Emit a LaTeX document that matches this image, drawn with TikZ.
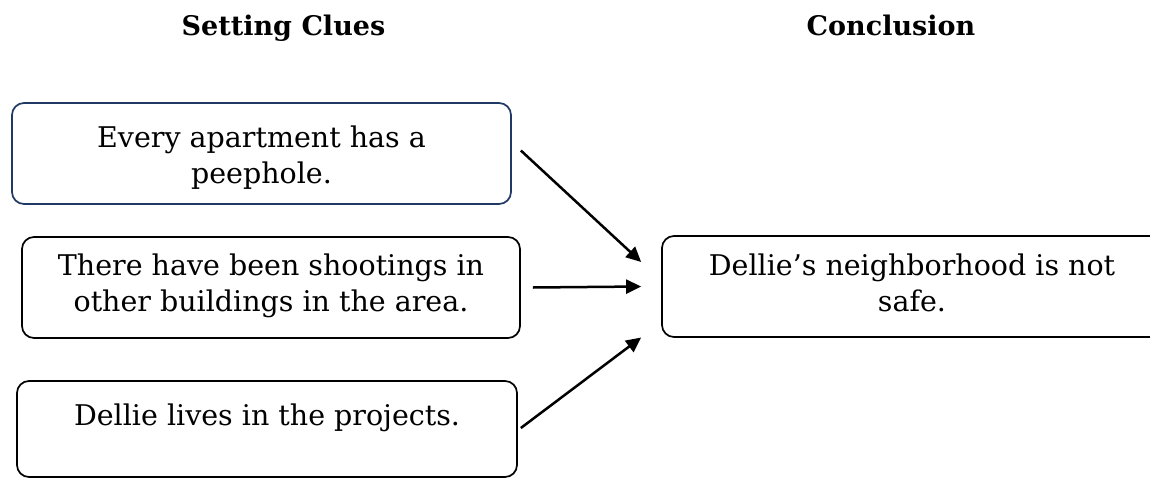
\documentclass[tikz,border=0pt]{standalone}
\usepackage{fontspec}
\setmainfont{DejaVu Serif}
\usetikzlibrary{arrows.meta,calc}
\definecolor{navy}{RGB}{31,56,100}
\begin{document}
\begin{tikzpicture}[x=1pt,y=-1pt,
  clue/.style={draw, rounded corners=12pt, line width=1.7pt, minimum height=101pt, inner sep=0pt},
  txt/.style={anchor=base, inner sep=0pt, align=center, font=\fontsize{28.5}{36}\selectfont},
  head/.style={anchor=base, inner sep=0pt, font=\fontsize{27}{30}\selectfont\bfseries},
  arr/.style={line width=2.5pt, -{Triangle[length=15pt,width=14pt]}}]
\useasboundingbox (0,0) rectangle (1150,479);
\node[head] (h1) at (283.5,35) {Setting Clues};
\node[head] (h2) at (891,35) {Conclusion};
\node[clue, draw=navy, minimum width=499pt] (b1) at (261.5,153.5) {};
\node[clue, minimum width=498pt] (b2) at (271,287.5) {};
\node[clue, minimum width=500pt, minimum height=96pt] (b3) at (267,429) {};
\node[clue, minimum width=500pt] (b4) at (912,286.5) {};
\node[txt] (t1) at (b1.center |- 0,183) {Every apartment has a\\peephole.};
\node[txt] (t2) at (b2.center |- 0,311) {There have been shootings in\\other buildings in the area.};
\node[txt] (t3) at (b3.center |- 0,425) {Dellie lives in the projects.};
\node[txt] (t4) at (b4.center |- 0,311) {Dellie’s neighborhood is not\\safe.};
\draw[arr] ($(b1.east)+(9,-3)$) -- ($(b4.west)+(-20,-24.5)$);
\draw[arr] ($(b2.east)+(12,0)$) -- ($(b4.west)+(-20,0)$);
\draw[arr] ($(b3.east)+(3,-1)$) -- ($(b4.west)+(-20,51)$);
\end{tikzpicture}
\end{document}
